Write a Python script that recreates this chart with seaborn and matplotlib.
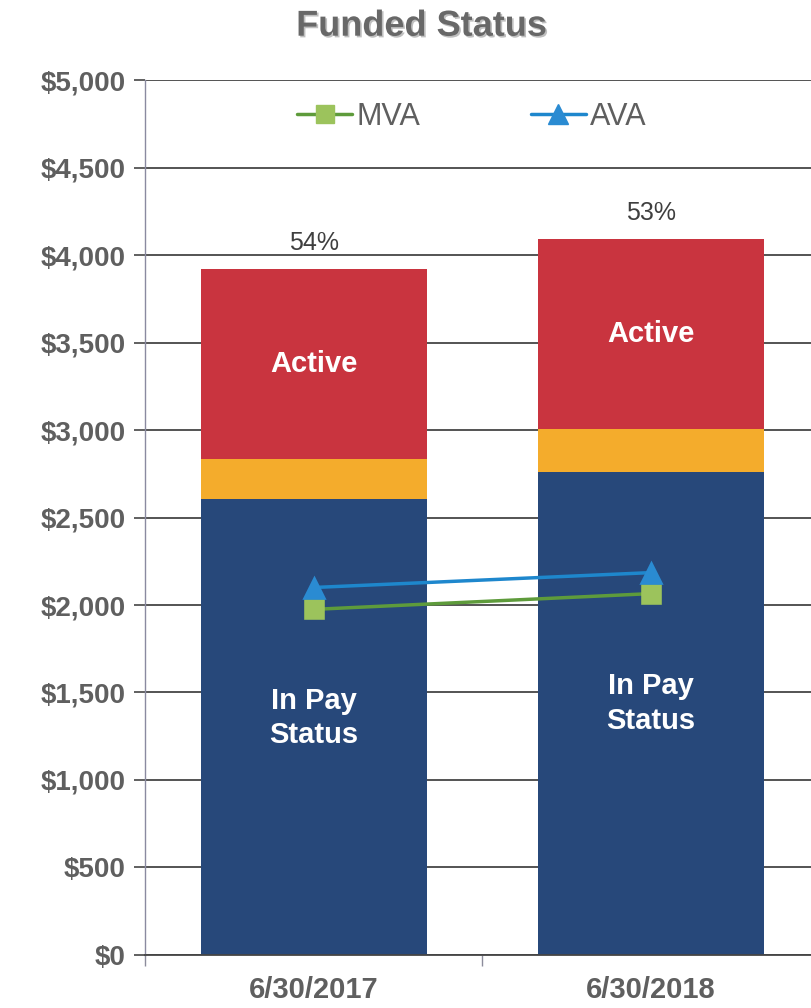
import matplotlib
matplotlib.use("Agg")
import matplotlib.pyplot as plt
import matplotlib.patheffects as pe
from matplotlib.lines import Line2D
from matplotlib.ticker import FuncFormatter, FixedLocator
import seaborn as sns
import pandas as pd

# datos (millones de $)
dates = ["6/30/2017", "6/30/2018"]
in_pay = [2604, 2762]
inactive = [228, 242]
active = [1086, 1087]
mva = [1975, 2065]
ava = [2100, 2185]
funded_pct = ["54%", "53%"]

df = pd.DataFrame({"date": dates, "in_pay": in_pay, "inactive": inactive,
                   "active": active, "mva": mva, "ava": ava})
df["lvl2"] = df["in_pay"] + df["inactive"]
df["total"] = df["lvl2"] + df["active"]

navy = "#27487A"
gold = "#F4AC2C"
red = "#C9343F"
gray = "#5f5f5f"

sns.set_style("white")
plt.rcParams["font.family"] = ["Liberation Sans", "DejaVu Sans"]

fig = plt.figure(figsize=(8.11, 10.08), dpi=100)
ax = fig.add_axes([0.179, 0.0526, 0.831, 0.868])
ax.set_axisbelow(True)

# barras apiladas: se dibujan los acumulados de mayor a menor
sns.barplot(data=df, x="date", y="total", color=red, width=0.67, saturation=1, linewidth=0, ax=ax)
sns.barplot(data=df, x="date", y="lvl2", color=gold, width=0.67, saturation=1, linewidth=0, ax=ax)
sns.barplot(data=df, x="date", y="in_pay", color=navy, width=0.67, saturation=1, linewidth=0, ax=ax)

# lineas MVA / AVA
sns.pointplot(data=df, x="date", y="mva", color="#5E9B3B", marker="s", markersize=13,
              markerfacecolor="#9CC35C", markeredgecolor="#9CC35C", linewidth=2.5,
              errorbar=None, ax=ax)
sns.pointplot(data=df, x="date", y="ava", color="#1E87CD", marker="^", markersize=14,
              markerfacecolor="#2A8BD2", markeredgecolor="#2A8BD2", linewidth=2.5,
              errorbar=None, ax=ax)

# etiquetas dentro y sobre las barras
for i in range(len(dates)):
    ax.text(i, df["lvl2"][i] + df["active"][i] / 2, "Active", ha="center", va="center",
            color="white", fontsize=21, fontweight="bold")
    ax.text(i, df["in_pay"][i] * 0.52, "In Pay\nStatus", ha="center", va="center",
            color="white", fontsize=21, fontweight="bold", linespacing=1.3)
    ax.annotate(funded_pct[i], (i, df["total"][i]), xytext=(0, 19), textcoords="offset points",
                ha="center", va="center", fontsize=18, color="#3f3f3f")

ax.set_xlim(-0.5, 1.5)
ax.set_ylim(0, 5000)
ax.set_yticks(range(0, 5001, 500))
ax.yaxis.set_major_formatter(FuncFormatter(lambda v, p: f"${v:,.0f}"))
ax.grid(axis="y", color="#454545", linewidth=1.3)
ax.grid(axis="x", visible=False)
ax.set_xlabel("")
ax.set_ylabel("")

ax.tick_params(axis="y", which="major", left=True, length=8, width=1.2, color="#454545",
               pad=6, labelsize=20, labelcolor=gray)
ax.tick_params(axis="x", which="major", bottom=False, length=0, pad=15, labelsize=21, labelcolor=gray)
for lab in ax.get_yticklabels() + ax.get_xticklabels():
    lab.set_fontweight("bold")
ax.xaxis.set_minor_locator(FixedLocator([-0.5, 0.5, 1.5]))
ax.tick_params(axis="x", which="minor", bottom=True, length=8, width=1, color="#8c8c9c")

for s in ["top", "right"]:
    ax.spines[s].set_visible(False)
ax.spines["left"].set_color("#8a8aa0")
ax.spines["left"].set_linewidth(1.0)
ax.spines["bottom"].set_color("#454545")
ax.spines["bottom"].set_linewidth(1.3)

handles = [
    Line2D([], [], color="#5E9B3B", lw=2.5, marker="s", markersize=13,
           markerfacecolor="#9CC35C", markeredgecolor="#9CC35C"),
    Line2D([], [], color="#1E87CD", lw=2.5, marker="^", markersize=14,
           markerfacecolor="#2A8BD2", markeredgecolor="#2A8BD2"),
]
ax.legend(handles, ["MVA", "AVA"], loc="center", bbox_to_anchor=(0.485, 0.958), ncol=2,
          frameon=False, fontsize=22, labelcolor=gray, handlelength=1.8,
          handletextpad=0.15, columnspacing=3.6)

fig.text(0.52, 0.974, "Funded Status", ha="center", va="center", fontsize=26,
         fontweight="bold", color="#686868",
         path_effects=[pe.withSimplePatchShadow(offset=(1.2, -1.2), shadow_rgbFace="#b0b0b0", alpha=0.8)])

fig.savefig("out.png", dpi=100)
